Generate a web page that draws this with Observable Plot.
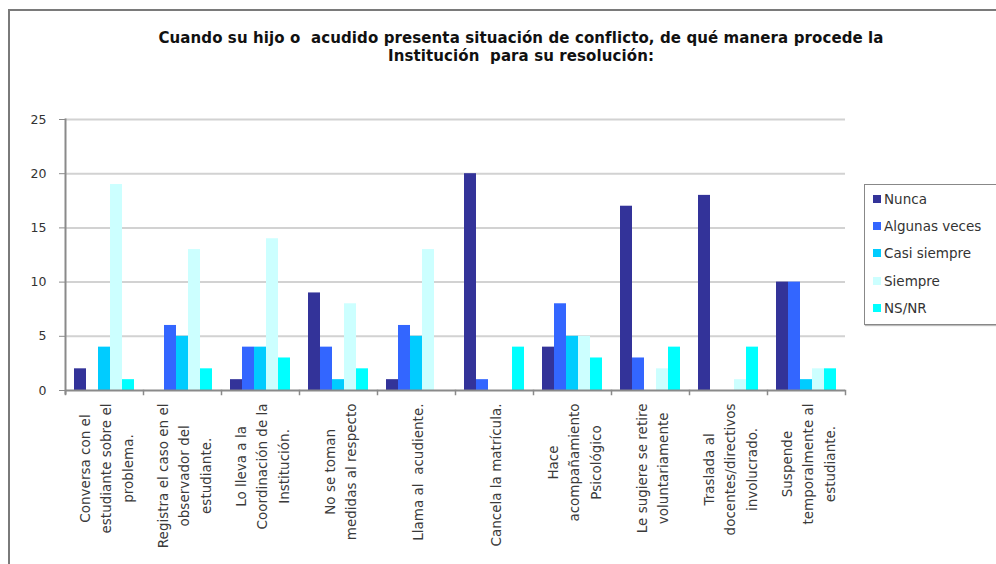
<!DOCTYPE html>
<html>
<head>
<meta charset="utf-8">
<script src="https://cdn.jsdelivr.net/npm/d3@7"></script>
<script src="https://cdn.jsdelivr.net/npm/@observablehq/plot@0.6"></script>
<style>
  html, body { margin: 0; padding: 0; background: #fff; }
  #page { position: relative; width: 996px; height: 564px; overflow: hidden; font-family: "DejaVu Sans", Verdana, sans-serif; }
  #border { position: absolute; left: 8px; top: 9px; right: -4px; bottom: -4px; border-left: 2px solid #7a7a7a; border-top: 2px solid #7a7a7a; }
  #title { position: absolute; left: 121px; width: 800px; top: 29px; text-align: center; font-weight: bold; font-size: 15px; line-height: 18px; letter-spacing: 0.1px; white-space: pre; color: #111; }
  #chart { position: absolute; left: 0; top: 100px; }
  #legend { position: absolute; left: 864px; top: 184px; width: 131px; height: 139px; border: 1px solid #888; box-shadow: 1px 1px 1px #bbb; background: #fff; font-size: 13.5px; color: #333; }
  .row { position: absolute; left: 8px; height: 15px; line-height: 15px; white-space: nowrap; }
  .sw { display: inline-block; width: 8px; height: 8px; margin-right: 3px; vertical-align: 1px; }
</style>
</head>
<body>
<div id="page">
  <div id="border"></div>
  <div id="title"></div>
  <div id="chart"></div>
  <div id="legend"></div>
</div>
<script>
const titleLines = [
  "Cuando su hijo o  acudido presenta situación de conflicto, de qué manera procede la",
  "Institución  para su resolución:"
];
const categories = [
  "Conversa con el\nestudiante sobre el\nproblema.",
  "Registra el caso en el\nobservador del\nestudiante.",
  "Lo lleva a la\nCoordinación de la\nInstitución.",
  "No se toman\nmedidas al respecto",
  "Llama al  acudiente.",
  "Cancela la matrícula.",
  "Hace\nacompañamiento\nPsicológico",
  "Le sugiere se retire\nvoluntariamente",
  "Traslada al\ndocentes/directivos\ninvolucrado.",
  "Suspende\ntemporalmente al\nestudiante."
];
const seriesNames = ["Nunca", "Algunas veces", "Casi siempre", "Siempre", "NS/NR"];
const seriesColors = ["#333399", "#3366FF", "#00CCFF", "#CCFFFF", "#00FFFF"];
const nunca        = [2, 0, 1, 9, 1, 20, 4, 17, 18, 10];
const algunasVeces = [0, 6, 4, 4, 6, 1, 8, 3, 0, 10];
const casiSiempre  = [4, 5, 4, 1, 5, 0, 5, 0, 0, 1];
const siempre      = [19, 13, 14, 8, 13, 0, 5, 2, 1, 2];
const nsnr         = [1, 2, 3, 2, 0, 4, 3, 4, 4, 2];
const yTicks = [0, 5, 10, 15, 20, 25];

const seriesValues = [nunca, algunasVeces, casiSiempre, siempre, nsnr];
const rows = [];
categories.forEach((c, i) => {
  seriesNames.forEach((s, j) => rows.push({cat: c, series: s, value: seriesValues[j][i]}));
});

document.getElementById("title").textContent = titleLines.join("\n");

const W = 996, H = 464, mT = 19, mB = 174, mL = 62, mR = 148;
const innerH = H - mT - mB;
const labelFont = 13.5, labelLH = 1.58;

// measure the longest line of each category label to center lines like the original
const ctx = document.createElement("canvas").getContext("2d");
ctx.font = `${labelFont}px "DejaVu Sans"`;
const longest = c => Math.max(...c.split("\n").map(l => ctx.measureText(l).width));

const labelMarks = categories.map(c => Plot.text([c], {
  fx: d => d,
  text: d => d,
  frameAnchor: "bottom",
  rotate: -90,
  textAnchor: "middle",
  lineAnchor: "middle",
  lineHeight: labelLH,
  fontSize: labelFont,
  fill: "#3a3a3a",
  dy: 13 + longest(c) / 2
}));

const chart = Plot.plot({
  width: W, height: H,
  marginTop: mT, marginBottom: mB, marginLeft: mL, marginRight: mR,
  style: {fontFamily: '"DejaVu Sans", Verdana, sans-serif', fontSize: "12px", color: "#333", background: "transparent"},
  fx: {domain: categories, paddingInner: 0, paddingOuter: 0, axis: null, label: null},
  x: {domain: seriesNames, paddingInner: 0, paddingOuter: 0.7, axis: null},
  y: {domain: [0, 25], axis: null},
  color: {domain: seriesNames, range: seriesColors},
  marks: [
    Plot.gridY(yTicks.filter(t => t > 0), {stroke: "#d2d2d2", strokeOpacity: 1, strokeWidth: 2}),
    Plot.barY(rows, {fx: "cat", x: "series", y: "value", fill: "series"}),
    Plot.ruleY([0], {stroke: "#8a8a8a", strokeWidth: 2}),
    Plot.frame({anchor: "left", facetAnchor: "left", stroke: "#8a8a8a", strokeWidth: 2, insetBottom: -3}),
    Plot.frame({anchor: "left", stroke: "#8a8a8a", strokeWidth: 1.5, insetTop: innerH, insetBottom: -4}),
    Plot.frame({anchor: "right", facetAnchor: "right", stroke: "#8a8a8a", strokeWidth: 1.5, insetTop: innerH, insetBottom: -4}),
    Plot.axisY({ticks: yTicks, tickSize: 6, tickPadding: 13, stroke: "#8a8a8a", fill: "#333", fontSize: 12.5, label: null}),
    ...labelMarks
  ]
});
document.getElementById("chart").appendChild(chart);

const legend = document.getElementById("legend");
seriesNames.forEach((s, i) => {
  const row = document.createElement("div");
  row.className = "row";
  row.style.top = (7 + i * 27.2) + "px";
  const sw = document.createElement("span");
  sw.className = "sw";
  sw.style.background = seriesColors[i];
  row.appendChild(sw);
  row.appendChild(document.createTextNode(s));
  legend.appendChild(row);
});
</script>
</body>
</html>
